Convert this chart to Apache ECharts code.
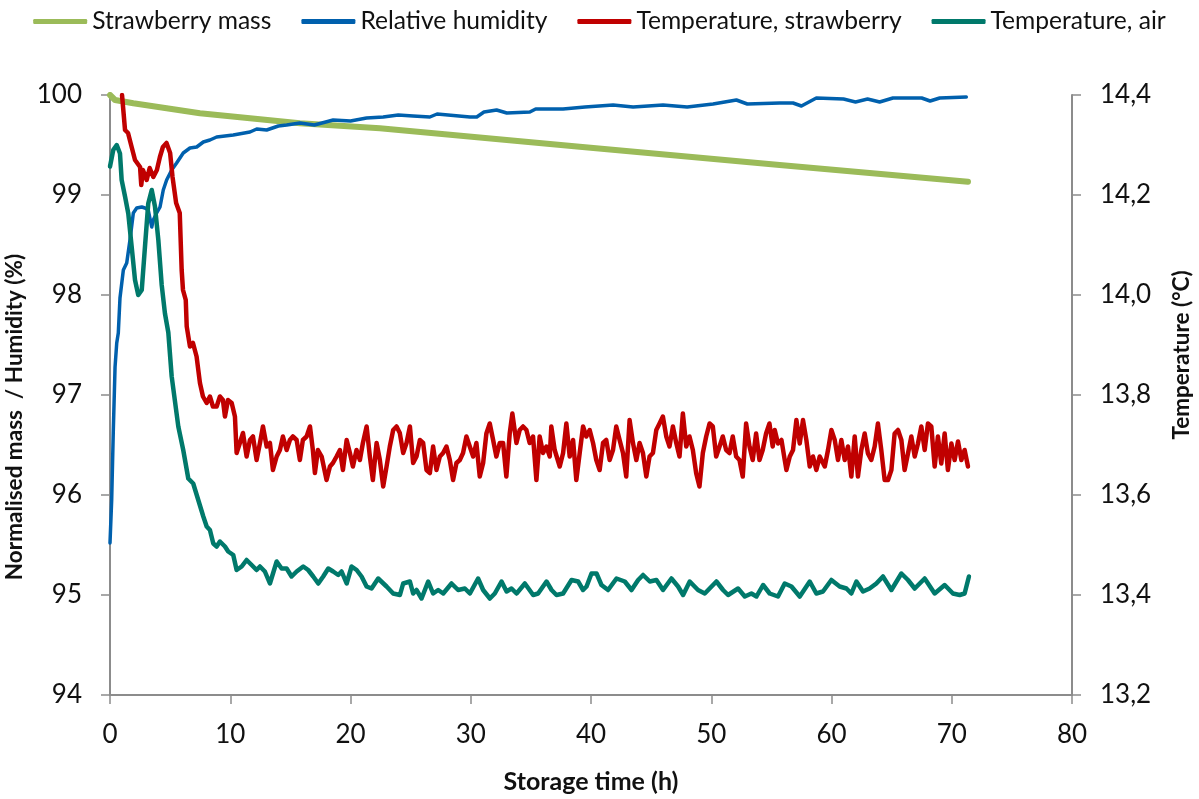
<!DOCTYPE html>
<html>
<head>
<meta charset="utf-8">
<script src="https://cdn.jsdelivr.net/npm/echarts@6/dist/echarts.min.js"></script>
<style>
  html, body { margin: 0; padding: 0; background: #fff; }
  #chart { width: 1199px; height: 799px; }
</style>
</head>
<body>
<div id="chart"></div>
<script>
// [storage time (h), value]
const massData = [
  [0, 100], [0.42, 99.95], [1.94, 99.917], [4.71, 99.867], [7.48, 99.817],
  [11.64, 99.767], [15.79, 99.717], [22.44, 99.667], [39.06, 99.483],
  [55.69, 99.3], [71.35, 99.133]
]

const humidityData = [
  [0, 95.52], [0.14, 95.95], [0.27, 96.62], [0.42, 97.28], [0.56, 97.52], [0.69, 97.62],
  [0.83, 97.97], [1.11, 98.25], [1.39, 98.32], [1.66, 98.55], [1.94, 98.82], [2.22, 98.87],
  [2.64, 98.88], [2.91, 98.87], [3.18, 98.85], [3.47, 98.68], [3.6, 98.75], [3.88, 98.82],
  [4.16, 98.88], [4.43, 99.05], [4.71, 99.15], [5.13, 99.25], [5.54, 99.32], [6.09, 99.42],
  [6.65, 99.47], [7.21, 99.48], [7.76, 99.53], [8.31, 99.55], [8.87, 99.58], [10.25, 99.6],
  [11.64, 99.63], [12.2, 99.66], [13.03, 99.65], [14.0, 99.69], [14.69, 99.7], [15.79, 99.72],
  [17.0, 99.7], [18.56, 99.75], [20.0, 99.74], [21.34, 99.77], [22.72, 99.78], [23.97, 99.8],
  [25.2, 99.79], [26.6, 99.78], [27.2, 99.81], [29.93, 99.78], [30.5, 99.78], [31.1, 99.83],
  [32.15, 99.85], [33.0, 99.82], [34.91, 99.83], [35.4, 99.86], [37.68, 99.86], [39.5, 99.88],
  [41.84, 99.9], [43.5, 99.88], [45.99, 99.9], [48.0, 99.88], [50.15, 99.91], [52.09, 99.95],
  [53.0, 99.91], [55.69, 99.92], [56.8, 99.92], [57.5, 99.89], [58.74, 99.97], [61.0, 99.96],
  [62.0, 99.93], [63.0, 99.96], [64.0, 99.93], [65.11, 99.97], [67.5, 99.97], [68.2, 99.94],
  [69.0, 99.97], [71.21, 99.98]
]

const tempStrawData = [
  [1.0, 14.4], [1.25, 14.33], [1.5, 14.324], [1.8, 14.296], [2.08, 14.27], [2.5, 14.256],
  [2.6, 14.22], [2.74, 14.25], [3.05, 14.23], [3.3, 14.254], [3.6, 14.236], [3.9, 14.25],
  [4.15, 14.276], [4.4, 14.296], [4.7, 14.304], [5.0, 14.284], [5.2, 14.236], [5.5, 14.184],
  [5.8, 14.164], [5.96, 14.05], [6.07, 14.01], [6.3, 13.99], [6.38, 13.937], [6.65, 13.897],
  [6.9, 13.904], [7.2, 13.877], [7.48, 13.824], [7.73, 13.797], [8.04, 13.784], [8.31, 13.797],
  [8.56, 13.777], [8.87, 13.777], [9.14, 13.797], [9.39, 13.79], [9.56, 13.757], [9.81, 13.79],
  [10.12, 13.784], [10.39, 13.757], [10.53, 13.684], [10.8, 13.704], [11.06, 13.724],
  [11.36, 13.677], [11.64, 13.71], [11.89, 13.717], [12.19, 13.67], [12.47, 13.704],
  [12.72, 13.737], [13.03, 13.697], [13.3, 13.704], [13.55, 13.65], [13.86, 13.677],
  [14.13, 13.69], [14.38, 13.717], [14.69, 13.69], [14.96, 13.71], [15.21, 13.717],
  [15.52, 13.71], [15.79, 13.67], [16.04, 13.71], [16.35, 13.717], [16.63, 13.737],
  [16.87, 13.69], [17.04, 13.644], [17.29, 13.69], [17.6, 13.677], [18.01, 13.63],
  [18.29, 13.657], [18.54, 13.664], [18.84, 13.677], [19.12, 13.69], [19.37, 13.65],
  [19.68, 13.71], [19.95, 13.684], [20.2, 13.657], [20.5, 13.69], [20.78, 13.67],
  [21.03, 13.704], [21.34, 13.737], [21.61, 13.677], [21.86, 13.63], [22.17, 13.704],
  [22.44, 13.67], [22.72, 13.617], [23.0, 13.657], [23.27, 13.697], [23.55, 13.73],
  [23.83, 13.737], [24.1, 13.724], [24.38, 13.684], [24.66, 13.704], [24.94, 13.737],
  [25.21, 13.664], [25.49, 13.677], [25.77, 13.71], [26.04, 13.704], [26.32, 13.65],
  [26.6, 13.644], [26.87, 13.697], [27.15, 13.65], [27.43, 13.677], [27.7, 13.684],
  [27.98, 13.697], [28.26, 13.67], [28.53, 13.63], [28.81, 13.664], [29.09, 13.67],
  [29.36, 13.684], [29.64, 13.717], [29.92, 13.697], [30.2, 13.677], [30.47, 13.704],
  [30.75, 13.637], [31.03, 13.664], [31.3, 13.723], [31.58, 13.743], [31.86, 13.71],
  [32.13, 13.677], [32.41, 13.704], [32.69, 13.704], [32.96, 13.637], [33.24, 13.723],
  [33.46, 13.763], [33.8, 13.704], [34.07, 13.73], [34.35, 13.737], [34.63, 13.73],
  [34.9, 13.704], [35.18, 13.717], [35.46, 13.63], [35.73, 13.717], [36.01, 13.684],
  [36.29, 13.697], [36.57, 13.677], [36.7, 13.737], [36.98, 13.69], [37.4, 13.657],
  [37.68, 13.684], [37.95, 13.743], [38.23, 13.677], [38.51, 13.71], [38.78, 13.63],
  [39.06, 13.684], [39.34, 13.737], [39.61, 13.717], [39.89, 13.73], [40.17, 13.704],
  [40.44, 13.67], [40.72, 13.65], [41.0, 13.704], [41.27, 13.71], [41.55, 13.67],
  [41.83, 13.69], [42.1, 13.737], [42.38, 13.71], [42.66, 13.684], [42.93, 13.637],
  [43.21, 13.75], [43.49, 13.704], [43.77, 13.67], [44.04, 13.704], [44.32, 13.684],
  [44.6, 13.637], [44.87, 13.677], [45.15, 13.684], [45.43, 13.73], [45.7, 13.743],
  [45.98, 13.757], [46.26, 13.717], [46.53, 13.697], [46.81, 13.737], [47.09, 13.704],
  [47.36, 13.677], [47.64, 13.763], [47.92, 13.697], [48.19, 13.717], [48.47, 13.69],
  [48.75, 13.643], [49.02, 13.617], [49.3, 13.684], [49.58, 13.717], [49.86, 13.743],
  [50.13, 13.737], [50.41, 13.677], [50.69, 13.697], [50.96, 13.717], [51.24, 13.69],
  [51.52, 13.684], [51.79, 13.717], [52.07, 13.677], [52.35, 13.67], [52.62, 13.637],
  [52.9, 13.743], [53.18, 13.697], [53.45, 13.67], [53.73, 13.723], [54.01, 13.67],
  [54.28, 13.69], [54.56, 13.723], [54.84, 13.743], [55.11, 13.697], [55.28, 13.73],
  [55.55, 13.703], [55.84, 13.71], [56.11, 13.67], [56.25, 13.65], [56.53, 13.677],
  [56.8, 13.69], [57.08, 13.75], [57.36, 13.703], [57.63, 13.75], [57.91, 13.71],
  [58.19, 13.657], [58.46, 13.677], [58.74, 13.65], [59.02, 13.677], [59.44, 13.657],
  [59.71, 13.69], [59.99, 13.73], [60.27, 13.71], [60.54, 13.67], [60.82, 13.71],
  [61.1, 13.67], [61.37, 13.697], [61.65, 13.637], [61.93, 13.717], [62.2, 13.637],
  [62.48, 13.69], [62.76, 13.723], [63.03, 13.683], [63.31, 13.67], [63.59, 13.697],
  [63.86, 13.743], [64.14, 13.69], [64.42, 13.63], [64.7, 13.63], [64.98, 13.65],
  [65.25, 13.723], [65.53, 13.73], [65.81, 13.71], [66.08, 13.65], [66.36, 13.683],
  [66.64, 13.717], [66.92, 13.677], [67.19, 13.703], [67.47, 13.737], [67.75, 13.69],
  [68.02, 13.743], [68.3, 13.737], [68.58, 13.657], [68.85, 13.717], [69.13, 13.663],
  [69.41, 13.723], [69.68, 13.65], [69.97, 13.703], [70.24, 13.67], [70.52, 13.707],
  [70.8, 13.67], [71.07, 13.69], [71.35, 13.657]
]

const tempAirData = [
  [0, 14.257], [0.27, 14.29], [0.56, 14.3], [0.83, 14.283], [0.97, 14.23], [1.25, 14.197],
  [1.52, 14.163], [1.8, 14.097], [2.08, 14.03], [2.35, 14.0], [2.64, 14.01], [2.91, 14.097],
  [3.18, 14.183], [3.47, 14.21], [3.74, 14.177], [4.02, 14.11], [4.3, 14.02], [4.57, 13.963],
  [4.85, 13.925], [5.13, 13.837], [5.68, 13.737], [6.09, 13.69], [6.51, 13.633], [6.92, 13.623],
  [7.34, 13.59], [7.76, 13.557], [8.04, 13.537], [8.31, 13.53], [8.59, 13.503], [8.87, 13.497],
  [9.14, 13.507], [9.56, 13.497], [9.83, 13.487], [10.25, 13.48], [10.53, 13.45], [10.95, 13.457],
  [11.36, 13.47], [11.78, 13.46], [12.19, 13.45], [12.47, 13.457], [12.88, 13.447], [13.3, 13.423],
  [13.86, 13.467], [14.27, 13.453], [14.69, 13.453], [15.1, 13.437], [15.52, 13.447],
  [16.07, 13.457], [16.48, 13.45], [16.9, 13.437], [17.32, 13.423], [17.73, 13.437],
  [18.15, 13.453], [18.56, 13.447], [18.98, 13.44], [19.26, 13.447], [19.68, 13.423],
  [20.09, 13.457], [20.51, 13.45], [20.92, 13.437], [21.34, 13.417], [21.75, 13.413],
  [22.3, 13.433], [23.0, 13.417], [23.55, 13.403], [24.11, 13.4], [24.38, 13.423],
  [24.94, 13.427], [25.21, 13.403], [25.49, 13.41], [25.91, 13.393], [26.46, 13.427],
  [26.87, 13.403], [27.29, 13.41], [27.71, 13.403], [28.4, 13.423], [28.95, 13.41],
  [29.51, 13.413], [29.93, 13.403], [30.61, 13.433], [31.03, 13.41], [31.59, 13.393],
  [32.0, 13.403], [32.56, 13.427], [32.98, 13.407], [33.39, 13.413], [33.81, 13.403],
  [34.5, 13.423], [35.19, 13.4], [35.6, 13.403], [36.3, 13.427], [36.72, 13.41],
  [37.13, 13.4], [37.68, 13.403], [38.38, 13.43], [38.93, 13.427], [39.34, 13.41],
  [39.63, 13.417], [40.04, 13.443], [40.46, 13.443], [40.87, 13.42], [41.42, 13.41],
  [42.12, 13.433], [42.81, 13.427], [43.37, 13.41], [43.92, 13.43], [44.33, 13.44],
  [44.89, 13.427], [45.44, 13.43], [45.99, 13.41], [46.69, 13.433], [47.24, 13.417],
  [47.66, 13.4], [48.21, 13.427], [48.9, 13.41], [49.46, 13.403], [50.43, 13.427],
  [50.98, 13.41], [51.4, 13.4], [52.23, 13.413], [52.79, 13.397], [53.34, 13.403],
  [53.76, 13.397], [54.31, 13.42], [54.86, 13.403], [55.55, 13.397], [56.11, 13.423],
  [56.67, 13.417], [57.36, 13.397], [58.19, 13.427], [58.74, 13.403], [59.29, 13.407],
  [59.99, 13.43], [60.68, 13.417], [61.24, 13.413], [61.65, 13.403], [62.07, 13.427],
  [62.62, 13.407], [63.17, 13.413], [63.73, 13.423], [64.28, 13.437], [64.98, 13.41],
  [65.81, 13.443], [66.36, 13.43], [66.92, 13.413], [67.75, 13.433], [68.58, 13.403],
  [69.41, 13.42], [70.1, 13.403], [70.66, 13.4], [71.07, 13.403], [71.43, 13.437]
]

const seriesNames = ['Strawberry mass', 'Relative humidity', 'Temperature, strawberry', 'Temperature, air']
const seriesColors = ['#9bbb59', '#0060ad', '#c00000', '#00796b']

const font = 'Lato, "Open Sans", sans-serif'
const axisGrey = '#8c8c8c'

let chart = echarts.init(document.getElementById('chart'), null, { renderer: 'canvas' })

function line(i, data, yIdx, width) {
    return {
        name: seriesNames[i],
        type: 'line',
        yAxisIndex: yIdx,
        data: data,
        showSymbol: false,
        symbol: 'none',
        smooth: false,
        lineStyle: { color: seriesColors[i], width: width, cap: 'round', join: 'round' },
        itemStyle: { color: seriesColors[i] },
        z: 2 + i
    }
}

let option = {
    animation: false,
    backgroundColor: '#fff',
    textStyle: { fontFamily: font },
    legend: {
        top: 9,
        left: 'center',
        width: 1190,
        padding: 0,
        itemWidth: 54,
        itemHeight: 5,
        itemGap: 30,
        icon: 'roundRect',
        textStyle: { fontSize: 24.6, color: '#111', fontFamily: font },
        data: seriesNames
    },
    grid: { left: 110, right: 127, top: 95, bottom: 104, containLabel: false, outerBoundsMode: 'none' },
    xAxis: {
        type: 'value',
        min: 0, max: 80, interval: 10,
        name: 'Storage time (h)',
        nameLocation: 'middle',
        nameGap: 74,
        nameTextStyle: { fontSize: 25, fontWeight: 'bold', color: '#111' },
        axisLine: { show: true, onZero: false, lineStyle: { color: axisGrey, width: 2 } },
        axisTick: { show: true, inside: false, length: 9, lineStyle: { color: axisGrey, width: 1.5 } },
        axisLabel: { fontSize: 26, color: '#111', margin: 27 },
        splitLine: { show: false }
    },
    yAxis: [
        {
            type: 'value',
            min: 94, max: 100, interval: 1,
            name: 'Normalised mass  / Humidity (%)',
            nameLocation: 'middle',
            nameRotate: 90,
            nameGap: 77,
            nameTextStyle: { fontSize: 22.5, fontWeight: 'bold', color: '#111', padding: [0, 44, 0, 0] },
            axisLine: { show: true, lineStyle: { color: axisGrey, width: 2 } },
            axisTick: { show: true, length: 9, lineStyle: { color: axisGrey, width: 1.5 } },
            axisLabel: { fontSize: 26, color: '#111', margin: 28 },
            splitLine: { show: false }
        },
        {
            type: 'value',
            min: 13.2, max: 14.4, interval: 0.2,
            position: 'right',
            name: 'Temperature (°C)',
            nameLocation: 'middle',
            nameRotate: 90,
            nameGap: 98,
            nameTextStyle: { fontSize: 22.5, fontWeight: 'bold', color: '#111', padding: [0, 0, 0, 80] },
            axisLine: { show: true, lineStyle: { color: axisGrey, width: 2 } },
            axisTick: { show: true, length: 9, lineStyle: { color: axisGrey, width: 1.5 } },
            axisLabel: {
                fontSize: 26, color: '#111', margin: 28,
                formatter: function (v) { return v.toFixed(1).replace('.', ',') }
            },
            splitLine: { show: false }
        }
    ],
    series: [
        line(0, massData, 0, 6),
        line(1, humidityData, 0, 3.5),
        line(2, tempStrawData, 1, 4.5),
        line(3, tempAirData, 1, 4.5)
    ]
};

option && chart.setOption(option);
</script>
</body>
</html>
